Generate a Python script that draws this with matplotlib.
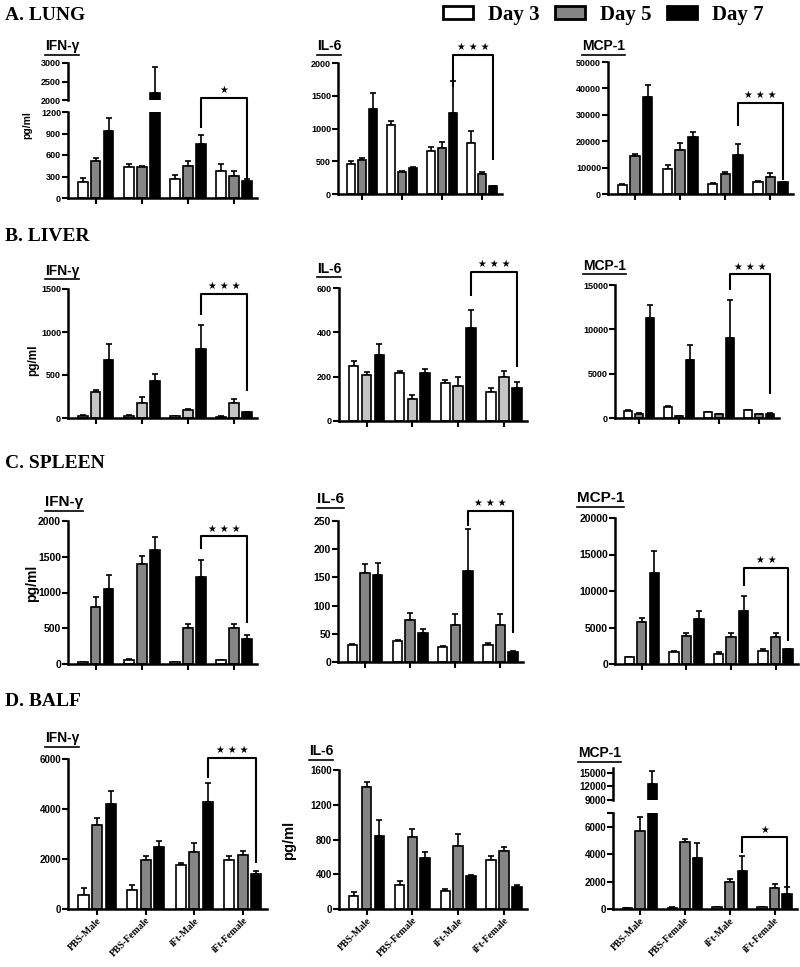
import numpy as np
import matplotlib.pyplot as plt
from matplotlib.patches import Patch
from matplotlib.lines import Line2D

groups = ["PBS-Male", "PBS-Female", "iFt-Male", "iFt-Female"]
days = ["Day 3", "Day 5", "Day 7"]

# one row per day (3, 5, 7), one column per group
lung_ifn = [[230, 430, 270, 370], [510, 430, 440, 310], [930, 2200, 760, 240]]
lung_ifn_err = [[45, 40, 45, 100], [55, 10, 70, 70], [190, 700, 120, 25]]
lung_il6 = [[460, 1060, 650, 780], [520, 330, 700, 300], [1300, 400, 1230, 115]]
lung_il6_err = [[40, 60, 65, 175], [25, 15, 100, 35], [240, 10, 490, 10]]
lung_mcp = [[3400, 9500, 3900, 4700], [14300, 16800, 7700, 6500], [36700, 21500, 14900, 4500]]
lung_mcp_err = [[300, 1300, 300, 200], [1000, 2500, 500, 1300], [4500, 2000, 4200, 200]]

liver_ifn = [[25, 25, 20, 15], [300, 180, 90, 170], [670, 430, 800, 70]]
liver_ifn_err = [[5, 5, 5, 5], [25, 70, 10, 55], [195, 85, 280, 5]]
liver_il6 = [[250, 215, 170, 130], [207, 100, 160, 197], [300, 215, 420, 150]]
liver_il6_err = [[22, 10, 17, 20], [12, 17, 38, 28], [47, 20, 83, 27]]
liver_mcp = [[830, 1200, 650, 850], [500, 200, 400, 450], [11300, 6500, 9000, 500]]
liver_mcp_err = [[100, 150, 80, 80], [50, 30, 50, 40], [1500, 1750, 4300, 30]]

spleen_ifn = [[25, 60, 25, 50], [800, 1400, 500, 500], [1050, 1600, 1210, 350]]
spleen_ifn_err = [[5, 10, 5, 10], [140, 110, 65, 65], [200, 180, 250, 55]]
spleen_il6 = [[31, 37, 27, 30], [158, 75, 66, 66], [154, 52, 161, 18]]
spleen_il6_err = [[1, 2, 1, 3], [16, 11, 19, 19], [22, 7, 74, 1]]
spleen_mcp = [[900, 1600, 1400, 1800], [5800, 3900, 3700, 3700], [12500, 6200, 7300, 2000]]
spleen_mcp_err = [[100, 200, 200, 300], [450, 400, 550, 550], [3000, 1100, 2000, 100]]

balf_ifn = [[580, 750, 1750, 1950], [3370, 1980, 2300, 2160], [4200, 2500, 4270, 1400]]
balf_ifn_err = [[260, 200, 80, 190], [270, 160, 360, 170], [540, 240, 770, 130]]
balf_il6 = [[150, 275, 210, 560], [1400, 830, 720, 665], [840, 585, 380, 250]]
balf_il6_err = [[50, 45, 20, 55], [65, 90, 145, 50], [185, 70, 10, 25]]
balf_mcp = [[50, 100, 120, 120], [5700, 4850, 2000, 1550], [12600, 3750, 2800, 1100]]
balf_mcp_err = [[10, 10, 10, 10], [1000, 280, 220, 250], [2700, 1050, 1050, 530]]

W, H = 800, 967
GRAY = "#858585"
LIGHT = "#c4c4c4"
SANS = "Liberation Sans"
SERIF = "Liberation Serif"

fig = plt.figure(figsize=(W / 100, H / 100), dpi=100)
titles = []


def px_axes(x0, x1, ytop, ybot):
    return fig.add_axes([x0 / W, 1 - ybot / H, (x1 - x0) / W, (ybot - ytop) / H])


def style(ax, fs, bottom=True):
    for s in ["top", "right"]:
        ax.spines[s].set_visible(False)
    ax.spines["left"].set_linewidth(1.8)
    ax.spines["bottom"].set_linewidth(1.8)
    if not bottom:
        ax.spines["bottom"].set_visible(False)
    ax.tick_params(direction="out", length=4, width=1.5, labelsize=fs, pad=1)
    ax.tick_params(axis="y", which="minor", length=4, width=1.5)
    for lab in ax.get_yticklabels():
        lab.set_fontfamily(SANS)
        lab.set_fontweight("bold")
    ax.set_xlim(-0.6, 3.5)


def bars(ax, vals, errs, d5):
    colors = ["white", d5, "black"]
    x = np.arange(len(groups))
    for i in range(3):
        xi = x + (i - 1) * 0.28
        ax.errorbar(xi, vals[i], yerr=[np.zeros(4), errs[i]], fmt="none", ecolor="black",
                    elinewidth=1.2, capsize=2.5, capthick=1.2, zorder=1)
        ax.bar(xi, vals[i], width=0.21, color=colors[i], edgecolor="black",
               linewidth=1.2, zorder=2)


def panel(vals, errs, box, ylim, yticks, title, tpos, fs=6.5, d5=GRAY, broken=None,
          bracket=None, stars=0, xlabels=False, minor=None):
    ax = px_axes(*box)
    bars(ax, vals, errs, d5)
    ax.set_ylim(*ylim)
    ax.set_yticks(yticks)
    if minor:
        ax.set_yticks(minor, minor=True)
    ax.set_xticks(np.arange(4))
    if xlabels:
        ax.set_xticklabels(groups, rotation=45, ha="right", rotation_mode="anchor",
                           fontfamily=SERIF, fontweight="bold", fontsize=9.5)
    else:
        ax.set_xticklabels([])
    style(ax, fs)
    if broken:
        ytop, ybot, ylim2, ticks2 = broken
        ax2 = px_axes(box[0], box[1], ytop, ybot)
        ax2.patch.set_visible(False)
        bars(ax2, vals, errs, d5)
        ax2.set_ylim(*ylim2)
        ax2.set_yticks(ticks2)
        ax2.set_xticks([])
        style(ax2, fs, bottom=False)
    if bracket:
        h, lb, rb = bracket
        xl, xr = 2.28, 3.28
        kw = dict(color="black", lw=1.5, clip_on=False, solid_capstyle="butt", zorder=5)
        ax.add_line(Line2D([xl, xl, xr, xr], [lb, h, h, rb], **kw))
        ax.annotate(" ".join(["\u2605"] * stars), xy=((xl + xr) / 2, h), xytext=(0, 2),
                    textcoords="offset points", ha="center", va="bottom", fontsize=7,
                    family="DejaVu Sans", annotation_clip=False, zorder=5)
    t = fig.text(tpos[0] / W, 1 - tpos[1] / H, title, fontsize=tpos[2], fontweight="bold",
                 family=SANS, ha="left", va="baseline")
    titles.append(t)
    return ax


# A. LUNG
panel(lung_ifn, lung_ifn_err, (68, 257, 112, 198), (0, 1200), [0, 300, 600, 900, 1200],
      "IFN-\u03b3", (45, 50, 10), fs=6.5, broken=(63, 100, (2000, 3000), [2000, 2500, 3000]),
      bracket=(1395, 980, 260), stars=1)
panel(lung_il6, lung_il6_err, (338, 502, 63, 194), (0, 2000), [0, 500, 1000, 1500, 2000],
      "IL-6", (317, 50, 10), fs=6.5, bracket=(2122, 1640, 520), stars=3)
panel(lung_mcp, lung_mcp_err, (608, 793, 62, 194), (0, 50000),
      [0, 10000, 20000, 30000, 40000, 50000], "MCP-1", (582, 50, 10), fs=6.5,
      bracket=(34470, 25600, 5400), stars=3)

# B. LIVER
panel(liver_ifn, liver_ifn_err, (68, 257, 289, 418), (0, 1500), [0, 500, 1000, 1500],
      "IFN-\u03b3", (45, 275, 10), fs=6.5, d5=LIGHT, bracket=(1442, 1200, 310), stars=3)
panel(liver_il6, liver_il6_err, (339, 527, 288, 421), (0, 600), [0, 200, 400, 600],
      "IL-6", (317, 273, 10), fs=6.5, d5=LIGHT, bracket=(672, 562, 245), stars=3)
panel(liver_mcp, liver_mcp_err, (615, 779, 285, 418), (0, 15000), [0, 5000, 10000, 15000],
      "MCP-1", (583, 270, 10), fs=6.5, bracket=(16208, 14400, 2750), stars=3)

# C. SPLEEN
panel(spleen_ifn, spleen_ifn_err, (68, 257, 521, 664), (0, 2000), [0, 500, 1000, 1500, 2000],
      "IFN-\u03b3", (45, 506, 11), fs=7.5, bracket=(1786, 1614, 567), stars=3)
panel(spleen_il6, spleen_il6_err, (338, 523, 521, 662), (0, 250), [0, 50, 100, 150, 200, 250],
      "IL-6", (317, 503, 11), fs=7.5, bracket=(268, 242, 51), stars=3)
panel(spleen_mcp, spleen_mcp_err, (615, 798, 518, 664), (0, 20000),
      [0, 5000, 10000, 15000, 20000], "MCP-1", (577, 502, 11), fs=7.5,
      bracket=(13150, 10640, 3100), stars=2)

# D. BALF
panel(balf_ifn, balf_ifn_err, (68, 267, 759, 909), (0, 6000), [0, 2000, 4000, 6000],
      "IFN-\u03b3", (45, 742, 10), fs=7, bracket=(6040, 5240, 1840), stars=3, xlabels=True)
panel(balf_il6, balf_il6_err, (339, 527, 770, 909), (0, 1600), [0, 400, 800, 1200, 1600],
      "IL-6", (309, 755, 10), fs=7, xlabels=True)
panel(balf_mcp, balf_mcp_err, (613, 797, 813, 909), (0, 7000), [0, 2000, 4000, 6000],
      "MCP-1", (578, 757, 10), fs=7, broken=(768, 800, (9000, 16000), [9000, 12000, 15000]),
      bracket=(5222, 4056, 1385), stars=1, xlabels=True, minor=[7000])

# y labels
for x, y, s in [(27, 125, 7.5), (33, 360, 8.5), (32, 583, 10), (289, 840, 10.5)]:
    fig.text(x / W, 1 - y / H, "pg/ml", rotation=90, ha="center", va="center",
             fontsize=s, fontweight="bold", family=SANS)

# row headings
for y, s in [(20, "A. LUNG"), (241, "B. LIVER"), (468, "C. SPLEEN"), (706, "D. BALF")]:
    fig.text(5 / W, 1 - y / H, s, fontsize=14, fontweight="bold", family=SERIF,
             ha="left", va="baseline")

handles = [Patch(facecolor=c, edgecolor="black", linewidth=2) for c in ["white", GRAY, "black"]]
fig.legend(handles, days, loc="upper left", bbox_to_anchor=(439 / W, 1 - 1 / H), ncol=3,
           frameon=False, handlelength=1.45, handleheight=0.6, columnspacing=0.72,
           handletextpad=0.72, borderaxespad=0, borderpad=0.2,
           prop=dict(family=SERIF, weight="bold", size=15))

# underline the panel titles
fig.canvas.draw()
r = fig.canvas.get_renderer()
for t in titles:
    bb = t.get_window_extent(r)
    y = bb.y0 - 1.5
    fig.add_artist(Line2D([bb.x0 / W, bb.x1 / W], [y / H, y / H], color="black", lw=1.2,
                          transform=fig.transFigure))

fig.savefig("out.png", dpi=100)
